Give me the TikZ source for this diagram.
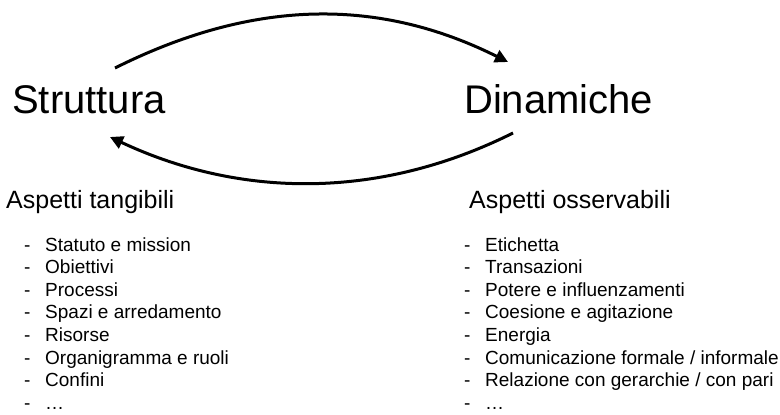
\documentclass[tikz,border=0pt]{standalone}
\usepackage{fontspec}
\setmainfont{Liberation Sans}
\usetikzlibrary{arrows.meta}
\definecolor{schemaink}{RGB}{0, 0, 0}

\begin{document}
\begin{tikzpicture}[x=1pt, y=-1pt,
    titolo/.style={anchor=base west, inner sep=0pt, text=schemaink, font=\fontsize{40}{48}\selectfont},
    intestazione/.style={anchor=base west, inner sep=0pt, text=schemaink, font=\fontsize{25}{30}\selectfont},
    voce/.style={anchor=base west, inner sep=0pt, text=schemaink, font=\fontsize{19}{23}\selectfont},
    freccia/.style={draw=schemaink, line width=3pt, -{Triangle[length=13pt, width=13pt]}}]
    \useasboundingbox (0,0) rectangle (780,415);

    % Titoli
    \node[titolo] (struttura) at (12,113) {Struttura};
    \node[titolo] (dinamiche) at (464,113) {Dinamiche};

    % Frecce tra i due poli
    \coordinate (struttura-out) at (115,68);
    \coordinate (dinamiche-in) at (508,62);
    \coordinate (dinamiche-out) at (513,133);
    \coordinate (struttura-in) at (110,137);
    \draw[freccia] (struttura-out) .. controls (255,-2) and (380,-2) .. (dinamiche-in);
    \draw[freccia] (dinamiche-out) .. controls (381,199) and (242,199) .. (struttura-in);

    % Aspetti tangibili
    \node[intestazione] (tangibili) at (6,208) {Aspetti tangibili};
    \foreach \testo [count=\i] in {Statuto e mission, Obiettivi, Processi,
        Spazi e arredamento, Risorse, Organigramma e ruoli, Confini, \ldots} {
        \node[voce] (t-trattino-\i) at (24,228.4+22.6*\i) {-};
        \node[voce] (t-voce-\i) at (45,228.4+22.6*\i) {\testo};
    }

    % Aspetti osservabili
    \node[intestazione] (osservabili) at (469,208) {Aspetti osservabili};
    \foreach \testo [count=\i] in {Etichetta, Transazioni, Potere e influenzamenti,
        Coesione e agitazione, Energia, Comunicazione formale / informale,
        Relazione con gerarchie / con pari, \ldots} {
        \node[voce] (o-trattino-\i) at (464,228.4+22.6*\i) {-};
        \node[voce] (o-voce-\i) at (485,228.4+22.6*\i) {\testo};
    }
\end{tikzpicture}
\end{document}
